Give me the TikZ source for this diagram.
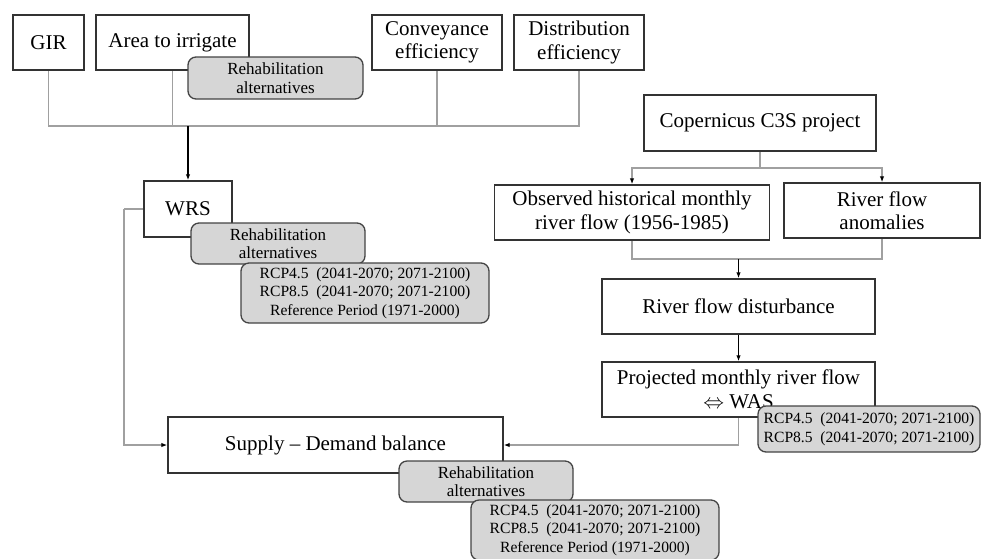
\documentclass[tikz,border=0pt]{standalone}
\usepackage{fontspec}
\setmainfont{Liberation Serif}
\usetikzlibrary{arrows.meta,backgrounds}

\definecolor{boxline}{HTML}{333333}
\definecolor{tagfill}{HTML}{D6D6D6}
\definecolor{tagline}{HTML}{444444}
\definecolor{wire}{HTML}{A0A0A0}

\tikzset{
  mainbox/.style={draw=boxline, line width=1.4pt, fill=white, rectangle,
    inner sep=0pt, align=center, font=\fontsize{21}{23.5}\selectfont},
  tagbox/.style={draw=tagline, line width=1.3pt, fill=tagfill, rectangle,
    rounded corners=8pt, inner sep=0pt, align=center,
    font=\fontsize{17}{18.5}\selectfont},
  rcpbox/.style={tagbox, font=\fontsize{15.6}{18.7}\selectfont},
  wirestyle/.style={draw=wire, line width=1.2pt},
  tip/.style={-{Latex[length=6pt,width=4.5pt,color=black]}},
  darkarrow/.style={draw=black, line width=1.2pt, tip}
}

\begin{document}
\begin{tikzpicture}[x=1pt, y=-1pt]
\useasboundingbox (0,0) rectangle (981,558);

% ---- junction points of the connector network
\coordinate (bus) at (188,126);
\coordinate (fork) at (760,168);
\coordinate (merge) at (738.5,259);
\coordinate (wrsbend) at (124,209);

% ---- input boxes (top row)
\node[mainbox, minimum width=71pt, minimum height=55pt] (gir) at (48.5,42.5) {GIR};
\node[mainbox, minimum width=153pt, minimum height=55pt] (area) at (172.5,42.5) {Area to irrigate};
\node[mainbox, minimum width=130pt, minimum height=55pt] (conv) at (437,42.5) {Conveyance\\efficiency};
\node[mainbox, minimum width=130pt, minimum height=55pt] (distr) at (579,42.5) {Distribution\\efficiency};
\node[tagbox, minimum width=175pt, minimum height=42pt] (rehabA) at (275.5,78) {Rehabilitation\\alternatives};

% ---- water requirement chain
\node[mainbox, minimum width=88pt, minimum height=56pt] (wrs) at (188,209) {WRS};
\node[tagbox, minimum width=174pt, minimum height=41pt] (rehabB) at (278,243.5) {Rehabilitation\\alternatives};
\node[rcpbox, minimum width=248pt, minimum height=60pt] (rcpB) at (365,293)
  {RCP4.5~~(2041-2070; 2071-2100)\\RCP8.5~~(2041-2070; 2071-2100)\\Reference Period~(1971-2000)};

% ---- river flow chain
\node[mainbox, minimum width=232pt, minimum height=56pt] (cop) at (760,123) {Copernicus C3S project};
\node[mainbox, minimum width=275pt, minimum height=55pt] (obs) at (632,212.5) {Observed historical monthly\\river flow (1956-1985)};
\node[mainbox, minimum width=196pt, minimum height=55pt] (anom) at (882,210.5) {River flow\\anomalies};
\node[mainbox, minimum width=273pt, minimum height=55pt] (dist) at (738.5,306.5) {River flow disturbance};
\node[mainbox, minimum width=273pt, minimum height=55pt] (proj) at (738.5,389.5) {Projected monthly river flow\\$\Leftrightarrow$ WAS};
\node[rcpbox, minimum width=222pt, minimum height=46pt] (rcpP) at (869,429)
  {RCP4.5~~(2041-2070; 2071-2100)\\RCP8.5~~(2041-2070; 2071-2100)};

% ---- balance
\node[mainbox, minimum width=335pt, minimum height=56pt] (sup) at (335.5,445) {Supply -- Demand balance};
\node[tagbox, minimum width=174pt, minimum height=41pt] (rehabC) at (486,481.5) {Rehabilitation\\alternatives};
\node[rcpbox, minimum width=248pt, minimum height=60pt] (rcpC) at (595,530)
  {RCP4.5~~(2041-2070; 2071-2100)\\RCP8.5~~(2041-2070; 2071-2100)\\Reference Period~(1971-2000)};

% ---- connectors, kept behind the boxes
\begin{scope}[on background layer]
\draw[wirestyle] (gir.south) |- (bus);
\draw[wirestyle] (area.south) |- (bus);
\draw[wirestyle] (conv.south) |- (bus);
\draw[wirestyle] (distr.south) |- (bus);
\draw[darkarrow] (bus) -- (wrs.north);

\draw[wirestyle] (cop.south) -- (fork);
\draw[wirestyle, tip] (fork) -| (obs.north);
\draw[wirestyle, tip] (fork) -| (anom.north);

\draw[wirestyle] (obs.south) |- (merge);
\draw[wirestyle] (anom.south) |- (merge);
\draw[darkarrow] (merge) -- (dist.north);
\draw[darkarrow] (dist.south) -- (proj.north);

\draw[wirestyle, tip] (proj.south) |- (sup.east);
\draw[wirestyle] (wrs.west) -- (wrsbend);
\draw[wirestyle, tip] (wrsbend) |- (sup.west);
\end{scope}
\end{tikzpicture}
\end{document}
